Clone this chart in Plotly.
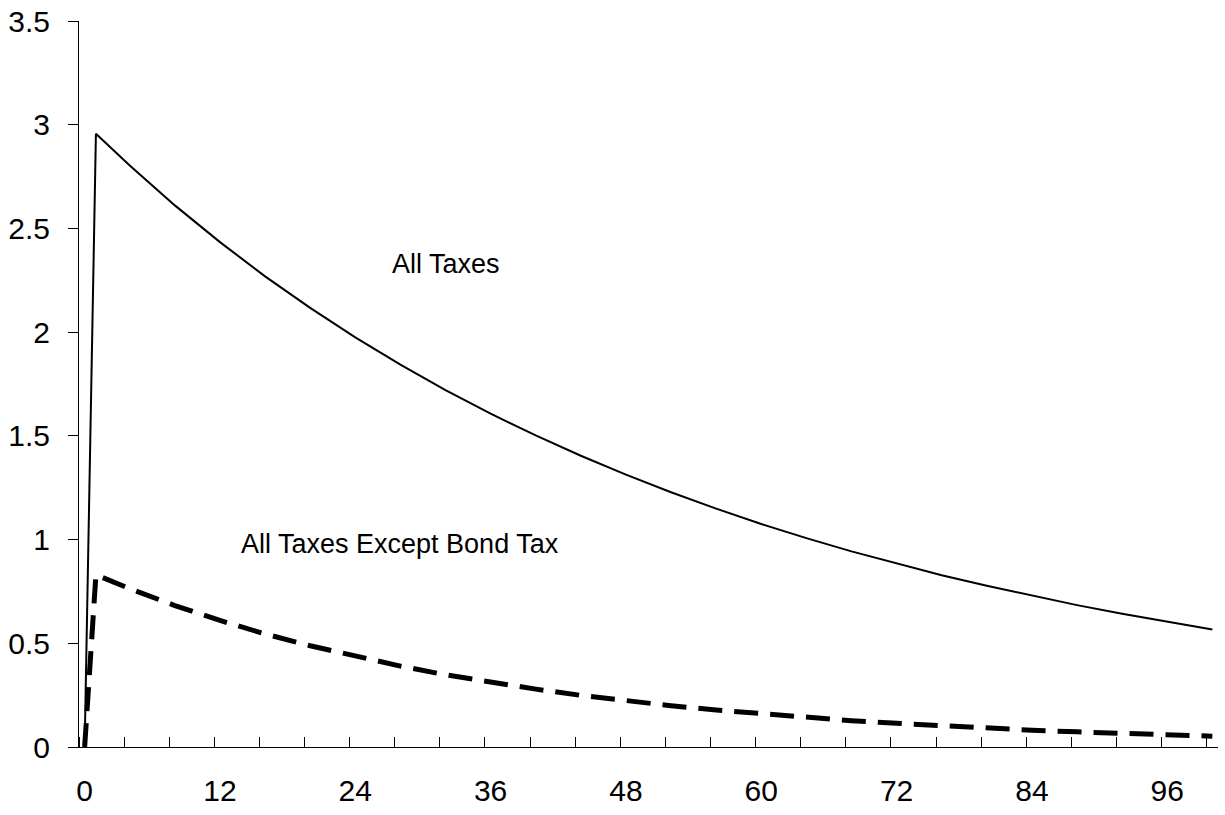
import plotly.graph_objects as go

months = [0, 1, 4, 8, 12, 16, 20, 24, 28, 32, 36, 40, 44, 48, 52, 56, 60, 64,
          68, 72, 76, 80, 84, 88, 92, 96, 100]

all_taxes = [0.0, 2.956, 2.803, 2.611, 2.434, 2.269, 2.117, 1.975, 1.843, 1.721,
             1.607, 1.502, 1.404, 1.313, 1.228, 1.149, 1.075, 1.007, 0.943,
             0.884, 0.828, 0.777, 0.729, 0.684, 0.642, 0.603, 0.566]

except_bond = [0.0, 0.83, 0.763, 0.682, 0.610, 0.545, 0.488, 0.436, 0.390, 0.348,
               0.311, 0.279, 0.249, 0.223, 0.199, 0.178, 0.159, 0.142, 0.127,
               0.114, 0.102, 0.091, 0.081, 0.073, 0.065, 0.058, 0.052]

x_tick_vals = [0, 12, 24, 36, 48, 60, 72, 84, 96]
x_tick_text = ["0", "12", "24", "36", "48", "60", "72", "84", "96"]
y_tick_vals = [0, 0.5, 1, 1.5, 2, 2.5, 3, 3.5]
y_tick_text = ["0", "0.5", "1", "1.5", "2", "2.5", "3", "3.5"]

label_all = "All Taxes"
label_except = "All Taxes Except Bond Tax"

FONT = "Liberation Sans, Arial, Helvetica, sans-serif"

fig = go.Figure()
fig.add_trace(go.Scatter(x=months, y=all_taxes, mode="lines",
                         line=dict(color="black", width=2), showlegend=False,
                         hoverinfo="skip"))
fig.add_trace(go.Scatter(x=months, y=except_bond, mode="lines",
                         line=dict(color="black", width=5, dash="24px,12px"),
                         showlegend=False, hoverinfo="skip"))

fig.add_annotation(x=32.06, y=2.33, text=label_all, showarrow=False,
                   font=dict(family=FONT, size=27, color="black"),
                   xanchor="center", yanchor="middle")
fig.add_annotation(x=28.0, y=0.98, text=label_except, showarrow=False,
                   font=dict(family=FONT, size=27, color="black"),
                   xanchor="center", yanchor="middle")

fig.update_xaxes(range=[-0.5, 100.5], tickvals=x_tick_vals, ticktext=x_tick_text,
                 ticks="", showgrid=False, zeroline=False, automargin=False,
                 showline=True, linecolor="black", linewidth=1,
                 tickfont=dict(family=FONT, size=30, color="black"),
                 ticklabelstandoff=17, ticklabeloverflow="allow",
                 minor=dict(tick0=-0.5, dtick=4, ticks="inside", ticklen=10,
                            tickcolor="black", tickwidth=1, showgrid=False))
fig.update_yaxes(range=[0, 3.5], tickvals=y_tick_vals, ticktext=y_tick_text,
                 ticks="outside", ticklen=10, tickcolor="black", tickwidth=1,
                 showgrid=False, zeroline=False, automargin=False,
                 showline=True, linecolor="black", linewidth=1,
                 tickfont=dict(family=FONT, size=30, color="black"),
                 ticklabelstandoff=12, ticklabeloverflow="allow")

fig.update_layout(width=1225, height=815,
                  margin=dict(l=79, r=7, t=21, b=68),
                  plot_bgcolor="white", paper_bgcolor="white")

# remove the default page margin so the figure sits at the window's corner
fig.write_html("out.html",
               config={"displayModeBar": False},
               post_script="document.body.style.margin='0';"
                           "document.body.style.overflow='hidden';")
